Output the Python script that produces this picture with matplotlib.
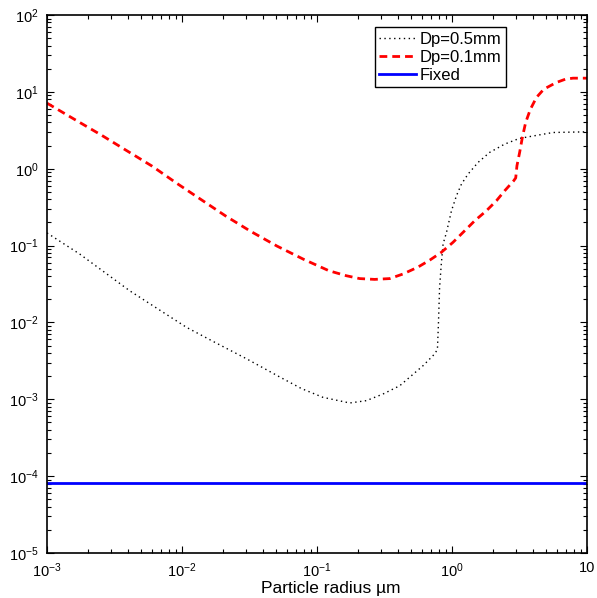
import matplotlib
matplotlib.use("Agg")
import matplotlib.pyplot as plt
from matplotlib.ticker import LogLocator, NullFormatter, FixedLocator

plt.rcParams['font.family'] = ['Liberation Sans', 'DejaVu Sans']
plt.rcParams['mathtext.fontset'] = 'custom'
plt.rcParams['mathtext.rm'] = 'Liberation Sans'
plt.rcParams['mathtext.it'] = 'Liberation Sans:italic'
plt.rcParams['mathtext.bf'] = 'Liberation Sans:bold'

# Dp = 0.5 mm (dotted black)
x_05 = [0.001, 0.00175, 0.0041, 0.0108, 0.0170, 0.030, 0.053, 0.0766, 0.1107, 0.1746,
        0.232, 0.308, 0.41, 0.611, 0.745, 0.78, 0.794, 0.809, 0.832, 0.859, 0.910,
        0.991, 1.079, 1.175, 1.315, 1.56, 1.90, 2.455, 3.16, 5.6, 10.0]
y_05 = [0.146, 0.0774, 0.0258, 0.00863, 0.00566, 0.00337, 0.00195, 0.00138, 0.00106, 0.000895,
        0.00096, 0.00117, 0.0015, 0.00274, 0.0039, 0.00447, 0.010, 0.0282, 0.056, 0.105, 0.148,
        0.284, 0.445, 0.631, 0.851, 1.208, 1.63, 2.09, 2.48, 2.96, 3.02]

# Dp = 0.1 mm (dashed red)
x_01 = [0.001, 0.001633, 0.00253, 0.00387, 0.0060, 0.0091, 0.01393, 0.0211, 0.0323, 0.0506,
        0.0798, 0.1227, 0.165, 0.207, 0.267, 0.346, 0.434, 0.56, 0.684, 0.834,
        1.016, 1.242, 1.472, 1.799, 2.133, 2.455, 2.864, 2.965, 3.027, 3.17,
        3.32, 3.51, 3.80, 4.22, 4.79, 5.93, 6.92, 7.87, 10.0]
y_01 = [7.13, 4.29, 2.735, 1.73, 1.081, 0.650, 0.394, 0.242, 0.153, 0.0984,
        0.0661, 0.047, 0.0405, 0.0372, 0.0363, 0.0372, 0.0427, 0.0525, 0.0646, 0.0817,
        0.110, 0.156, 0.210, 0.284, 0.383, 0.516, 0.697, 0.759, 1.091, 1.63,
        2.55, 3.98, 5.89, 8.45, 10.84, 13.24, 14.62, 15.07, 15.07]

# Fixed (solid blue)
x_fixed = [0.001, 10.0]
y_fixed = [8.2e-5, 8.2e-5]

legend_labels = ['Dp=0.5mm', 'Dp=0.1mm', 'Fixed']
xtick_vals = [1e-3, 1e-2, 1e-1, 1e0, 1e1]
xtick_labels = ['$10^{-3}$', '$10^{-2}$', '$10^{-1}$', '$10^{0}$', '10']
ytick_vals = [1e-5, 1e-4, 1e-3, 1e-2, 1e-1, 1e0, 1e1, 1e2]
ytick_labels = ['$10^{-5}$', '$10^{-4}$', '$10^{-3}$', '$10^{-2}$', '$10^{-1}$',
                '$10^{0}$', '$10^{1}$', '$10^{2}$']

fig = plt.figure(figsize=(5.97, 5.98), dpi=100)
ax = fig.add_axes([47/597, 45/598, 540/597, 538/598])

ax.plot(x_05, y_05, color='black', linestyle=(0, (1, 2.5)), linewidth=1.0, label=legend_labels[0])
ax.plot(x_01, y_01, color='red', linestyle=(0, (2.8, 1.8)), linewidth=2.0, label=legend_labels[1])
ax.plot(x_fixed, y_fixed, color='blue', linestyle='-', linewidth=2.0, label=legend_labels[2])

ax.set_xscale('log')
ax.set_yscale('log')
ax.set_xlim(1e-3, 10)
ax.set_ylim(1e-5, 1e2)

ax.xaxis.set_major_locator(FixedLocator(xtick_vals))
ax.set_xticklabels(xtick_labels)
ax.yaxis.set_major_locator(FixedLocator(ytick_vals))
ax.set_yticklabels(ytick_labels)
ax.xaxis.set_minor_locator(LogLocator(base=10, subs=range(2, 10), numticks=20))
ax.yaxis.set_minor_locator(LogLocator(base=10, subs=range(2, 10), numticks=20))
ax.xaxis.set_minor_formatter(NullFormatter())
ax.yaxis.set_minor_formatter(NullFormatter())

ax.tick_params(which='both', direction='in', top=True, right=True, labelsize=10.5, width=0.8)
ax.tick_params(which='major', length=5, pad=6)
ax.tick_params(which='minor', length=3)
for s in ax.spines.values():
    s.set_linewidth(1.2)

ax.set_xlabel('Particle radius \u00b5m', fontsize=12.5, labelpad=1)
ax.xaxis.label.set_x(0.526)

leg = ax.legend(loc='upper right', bbox_to_anchor=(0.85, 0.977), fancybox=False,
                framealpha=1, edgecolor='black', fontsize=12, handlelength=2.2,
                handletextpad=0.25, borderpad=0.25, labelspacing=0.2, borderaxespad=0)
leg.get_frame().set_linewidth(1.0)

fig.savefig('out.png', dpi=100)
